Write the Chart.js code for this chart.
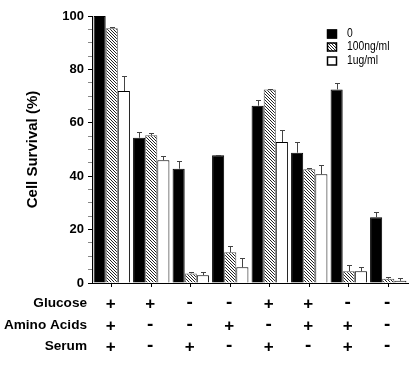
<!DOCTYPE html>
<html>
<head>
<meta charset="utf-8">
<script src="https://cdn.jsdelivr.net/npm/chart.js@4.4.0/dist/chart.umd.min.js"></script>
<style>
  html, body { margin: 0; padding: 0; background: #fff; }
  #wrap { width: 412px; height: 370px; }
</style>
</head>
<body>
<div id="wrap"><canvas id="chart" width="412" height="370"></canvas></div>
<script>
// Data
const groups = ['1', '2', '3', '4', '5', '6', '7', '8'];
const glucose = ['+', '+', '-', '-', '+', '+', '-', '-'];
const aminoAcids = ['+', '-', '-', '+', '-', '+', '+', '-'];
const serum = ['+', '-', '+', '-', '+', '-', '+', '-'];
const conditionRows = ['Glucose', 'Amino Acids', 'Serum'];

const doses = ['0', '100ng/ml', '1ug/ml'];
const survival0 = [100, 54.4, 42.8, 47.8, 66.4, 48.8, 72.5, 24.6];
const survival100 = [95.4, 55.3, 3.6, 11.5, 72.5, 42.6, 4.4, 1.6];
const survival1 = [71.9, 46.0, 2.9, 5.9, 52.8, 40.7, 4.4, 0.8];
const err0 = [0, 2.2, 3.0, 0.3, 2.1, 4.1, 2.3, 2.1];
const err100 = [0.6, 1.0, 0.5, 2.2, 0.3, 0.6, 2.2, 0.6];
const err1 = [5.8, 1.6, 1.3, 3.6, 4.5, 3.4, 1.7, 1.0];

const yTicks = [0, 20, 40, 60, 80, 100];

const sans = "'Liberation Sans', Arial, sans-serif";

// Diagonal hatch fill
function makeHatch() {
    const c = document.createElement('canvas');
    c.width = 3; c.height = 3;
    const g = c.getContext('2d');
    g.fillStyle = '#fff';
    g.fillRect(0, 0, 3, 3);
    g.strokeStyle = '#222';
    g.lineWidth = 1;
    g.beginPath();
    g.moveTo(-1, -1); g.lineTo(4, 4);
    g.moveTo(-1, 2); g.lineTo(1, 4);
    g.moveTo(2, -1); g.lineTo(4, 1);
    g.stroke();
    return g.createPattern(c, 'repeat');
}
const hatch = makeHatch();

// Upward error bars with caps
const errorBars = {
    id: 'errorBars',
    afterDatasetsDraw(chart) {
        const ctx = chart.ctx;
        const y = chart.scales.y;
        ctx.save();
        ctx.strokeStyle = '#444';
        ctx.lineWidth = 1;
        chart.data.datasets.forEach((ds, i) => {
            const meta = chart.getDatasetMeta(i);
            meta.data.forEach((bar, j) => {
                const e = ds.errors[j];
                if (!e) return;
                const top = Math.round(y.getPixelForValue(ds.data[j] + e)) + 0.5;
                const x = Math.round(bar.x) + 0.5;
                ctx.beginPath();
                ctx.moveTo(x, bar.y);
                ctx.lineTo(x, top);
                ctx.moveTo(x - 2.5, top);
                ctx.lineTo(x + 2.5, top);
                ctx.stroke();
            });
        });
        ctx.restore();
    }
};

// +/- condition table under the x axis
const conditionTable = {
    id: 'conditionTable',
    afterDraw(chart) {
        const ctx = chart.ctx;
        const x = chart.scales.x;
        const rows = [glucose, aminoAcids, serum];
        const rowY = [303, 325, 346];
        ctx.save();
        ctx.fillStyle = '#000';
        ctx.textBaseline = 'middle';
        rows.forEach((row, r) => {
            ctx.font = 'bold 13.6px ' + sans;
            ctx.textAlign = 'right';
            ctx.fillText(conditionRows[r], 87, rowY[r]);
            ctx.textAlign = 'center';
            row.forEach((s, i) => {
                ctx.font = (s === '+' ? 'bold 17px ' : 'bold 19px ') + sans;
                ctx.fillText(s, x.getPixelForValue(i) - 1, rowY[r] + (s === '+' ? 1 : 0));
            });
        });
        ctx.restore();
    }
};

// Legend in the upper right
const boxLegend = {
    id: 'boxLegend',
    afterDraw(chart) {
        const ctx = chart.ctx;
        const rowY = [34, 47, 61];
        ctx.save();
        ctx.font = '12px ' + sans;
        ctx.textBaseline = 'middle';
        ctx.textAlign = 'left';
        chart.data.datasets.forEach((ds, i) => {
            const top = rowY[i] - 4.5;
            ctx.fillStyle = ds.backgroundColor;
            ctx.fillRect(327, top, 10, 9);
            ctx.strokeStyle = '#000';
            ctx.lineWidth = 1.5;
            ctx.strokeRect(327.5, top + 0.5, 9, 8);
            ctx.fillStyle = '#000';
            ctx.save();
            ctx.translate(347, rowY[i]);
            ctx.scale(0.86, 1);
            ctx.fillText(ds.label, 0, 0);
            ctx.restore();
        });
        ctx.restore();
    }
};

new Chart(document.getElementById('chart'), {
    type: 'bar',
    data: {
        labels: groups,
        datasets: [
            { label: doses[0], data: survival0, errors: err0, backgroundColor: '#000', borderColor: '#000', borderWidth: 1 },
            { label: doses[1], data: survival100, errors: err100, backgroundColor: hatch, borderColor: '#555', borderWidth: 1 },
            { label: doses[2], data: survival1, errors: err1, backgroundColor: '#fff', borderColor: '#000', borderWidth: 1 }
        ]
    },
    options: {
        responsive: false,
        animation: false,
        devicePixelRatio: 1,
        layout: { padding: { left: 20, right: 4, top: 16, bottom: 0 } },
        datasets: { bar: { categoryPercentage: 0.92, barPercentage: 1.0 } },
        plugins: {
            legend: { display: false },
            tooltip: { enabled: false }
        },
        scales: {
            x: {
                offset: true,
                grid: { offset: false, drawOnChartArea: false, tickLength: 4, color: '#000' },
                border: { color: '#000', width: 1 },
                ticks: { display: false },
                afterFit(scale) { scale.height = 87; }
            },
            y: {
                min: 0,
                max: 100,
                ticks: {
                    stepSize: 5,
                    autoSkip: false,
                    padding: 4,
                    color: '#000',
                    font: { family: sans, size: 13, weight: 'bold' },
                    callback: v => (yTicks.includes(v) ? v : '')
                },
                grid: {
                    drawOnChartArea: false,
                    tickLength: 4,
                    tickColor: c => (c.tick && yTicks.includes(c.tick.value) ? '#000' : '#888')
                },
                border: { color: '#000', width: 1 },
                title: {
                    display: true,
                    text: 'Cell Survival (%)',
                    color: '#000',
                    font: { family: sans, size: 15, weight: 'bold' },
                    padding: { top: 4, bottom: 0 }
                },
                afterFit(scale) { scale.width = 72; }
            }
        }
    },
    plugins: [errorBars, conditionTable, boxLegend]
});
</script>
</body>
</html>
